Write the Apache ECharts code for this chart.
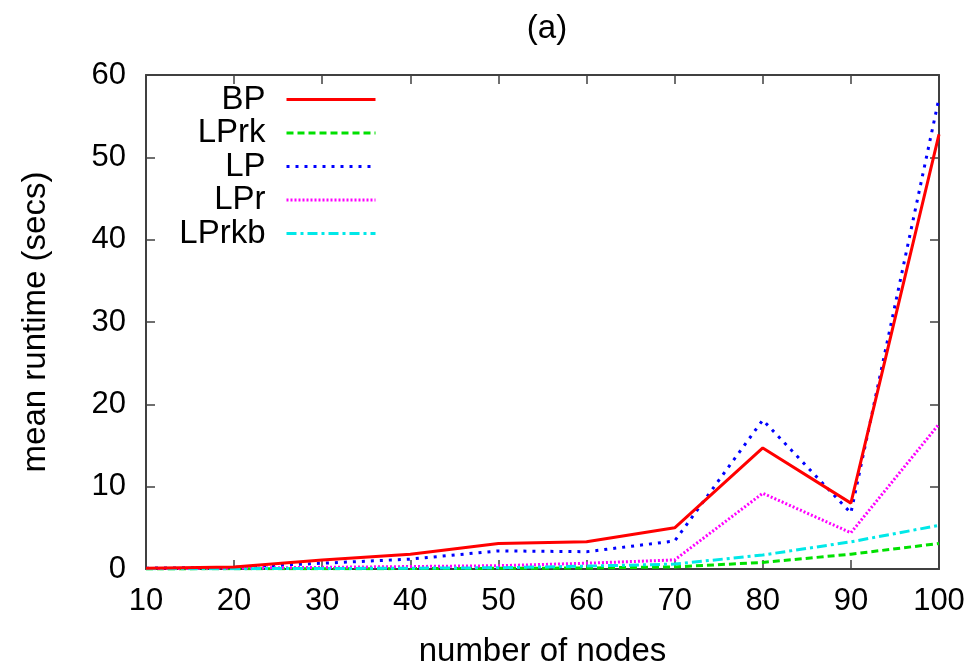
<!DOCTYPE html>
<html><head><meta charset="utf-8">
<script src="https://cdn.jsdelivr.net/npm/echarts@6/dist/echarts.min.js"></script>
<style>html,body{margin:0;padding:0;background:#fff}#c{width:974px;height:667px}</style>
</head><body><div id="c"></div>
<script>
const nodes = [10, 20, 30, 40, 50, 60, 70, 80, 90, 100];
const BP    = [0.1, 0.25, 1.1, 1.8, 3.1, 3.3, 5.0, 14.7, 8.0, 52.8];
const LPrk  = [0.01, 0.02, 0.03, 0.05, 0.08, 0.12, 0.25, 0.8, 1.8, 3.1];
const LP    = [0.1, 0.2, 0.7, 1.2, 2.2, 2.1, 3.4, 18.1, 6.8, 57.2];
const LPr   = [0.05, 0.1, 0.2, 0.3, 0.4, 0.7, 1.1, 9.2, 4.4, 17.6];
const LPrkb = [0.02, 0.04, 0.06, 0.1, 0.15, 0.35, 0.6, 1.7, 3.3, 5.3];
const yTicks = [0, 10, 20, 30, 40, 50, 60];

const seriesDefs = [
  {name: 'BP', data: BP, color: '#ff0000', type: 'solid'},
  {name: 'LPrk', data: LPrk, color: '#00e000', type: [7, 4]},
  {name: 'LP', data: LP, color: '#0000ff', type: [3, 6]},
  {name: 'LPr', data: LPr, color: '#ff00ff', type: [2, 2]},
  {name: 'LPrkb', data: LPrkb, color: '#00e8e8', type: [10, 4, 3, 4]}
];

const font = 'Liberation Sans, Arial, sans-serif';
const axisColor = '#404040';
const chart = echarts.init(document.getElementById('c'));

const legends = seriesDefs.map((s, i) => ({
  data: [s.name], orient: 'vertical', align: 'right',
  right: 974 - 377, top: 83 + i * 33.5,
  itemWidth: 89, itemHeight: 14, itemGap: 0,
  itemStyle: {opacity: 0},
  lineStyle: {width: 3, type: s.type, color: s.color},
  textStyle: {fontFamily: font, fontSize: 33, color: '#000', padding: [0, 16, 0, 0]},
  selectedMode: false, padding: 0
}));

const axBase = {
  type: 'value', splitLine: {show: false},
  axisLine: {show: true, onZero: false, lineStyle: {color: axisColor, width: 2}},
  axisTick: {show: true, inside: true, length: 9, lineStyle: {color: axisColor, width: 1.5}}
};

chart.setOption({
  animation: false,
  backgroundColor: '#fff',
  title: {text: '(a)', left: 542, top: 7, textAlign: 'center',
    textStyle: {fontFamily: font, fontSize: 33, fontWeight: 'normal', color: '#000'}},
  legend: legends,
  grid: {left: 146, right: 35, top: 75, bottom: 98, containLabel: false, outerBoundsMode: 'none'},
  xAxis: [
    Object.assign({}, axBase, {min: 10, max: 100, interval: 10, position: 'bottom',
      name: 'number of nodes', nameLocation: 'middle', nameGap: 66,
      nameTextStyle: {fontFamily: font, fontSize: 33, color: '#000'},
      axisLabel: {fontFamily: font, fontSize: 31, color: '#000', margin: 17}}),
    Object.assign({}, axBase, {min: 10, max: 100, interval: 10, position: 'top',
      axisLabel: {show: false}})
  ],
  yAxis: [
    Object.assign({}, axBase, {min: 0, max: 60, interval: 10, position: 'left',
      name: 'mean runtime (secs)', nameLocation: 'middle', nameGap: 94,
      nameTextStyle: {fontFamily: font, fontSize: 33, color: '#000'},
      axisLabel: {fontFamily: font, fontSize: 31, color: '#000', margin: 20}}),
    Object.assign({}, axBase, {min: 0, max: 60, interval: 10, position: 'right',
      axisLabel: {show: false}})
  ],
  series: seriesDefs.map(s => ({
    name: s.name, type: 'line', symbol: 'none', showSymbol: false,
    data: nodes.map((n, i) => [n, s.data[i]]),
    color: s.color,
    lineStyle: {color: s.color, width: 3, type: s.type},
    itemStyle: {color: s.color},
    z: s.name === 'BP' ? 3 : 2
  }))
});
</script></body></html>
